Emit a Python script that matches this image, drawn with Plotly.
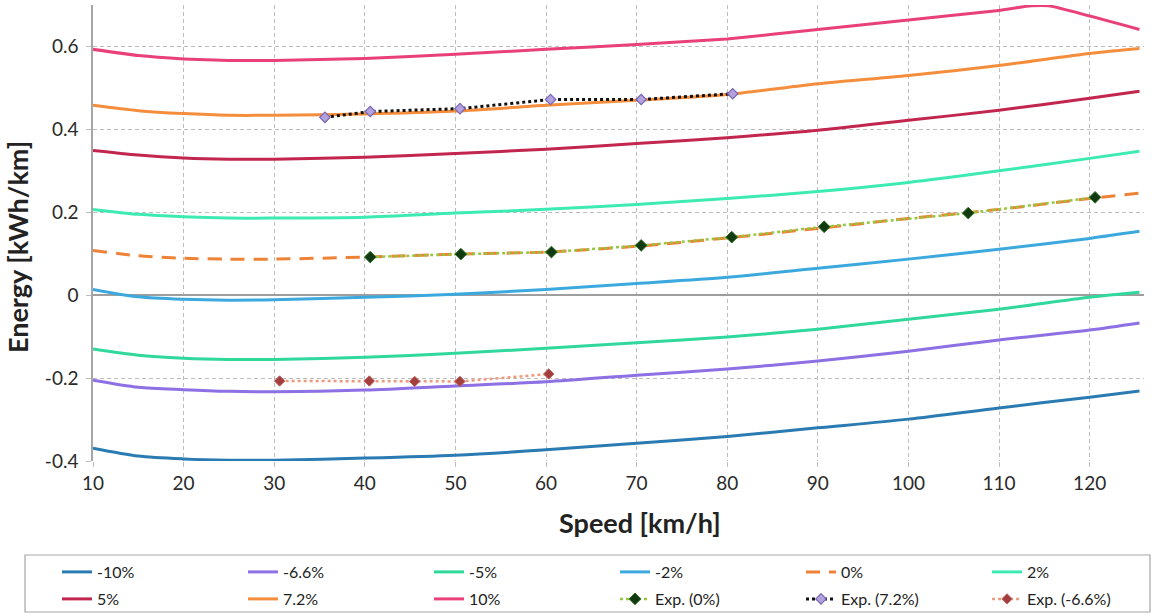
import plotly.graph_objects as go

# Speed grid for the model curves [km/h]
speed = [10, 15, 20, 25, 30, 40, 50, 60, 70, 80, 90, 100, 110, 120, 125.5]

# Modelled energy consumption [kWh/km] per road grade
e_m10 = [-0.369, -0.388, -0.395, -0.398, -0.398, -0.393, -0.386, -0.373, -0.357, -0.341, -0.320, -0.299, -0.272, -0.246, -0.231]
e_m66 = [-0.205, -0.222, -0.228, -0.232, -0.233, -0.229, -0.219, -0.209, -0.193, -0.178, -0.159, -0.135, -0.108, -0.084, -0.067]
e_m5 = [-0.130, -0.145, -0.152, -0.155, -0.155, -0.150, -0.140, -0.128, -0.115, -0.101, -0.082, -0.058, -0.034, -0.005, 0.007]
e_m2 = [0.014, -0.004, -0.010, -0.012, -0.011, -0.005, 0.002, 0.014, 0.028, 0.043, 0.065, 0.087, 0.111, 0.137, 0.154]
e_0 = [0.108, 0.095, 0.089, 0.087, 0.087, 0.092, 0.099, 0.104, 0.118, 0.138, 0.161, 0.185, 0.207, 0.233, 0.246]
e_p2 = [0.207, 0.195, 0.189, 0.186, 0.186, 0.188, 0.198, 0.207, 0.219, 0.233, 0.250, 0.272, 0.300, 0.330, 0.347]
e_p5 = [0.349, 0.338, 0.331, 0.328, 0.328, 0.333, 0.342, 0.352, 0.366, 0.380, 0.398, 0.422, 0.446, 0.475, 0.492]
e_p72 = [0.458, 0.445, 0.438, 0.434, 0.434, 0.437, 0.444, 0.458, 0.470, 0.484, 0.510, 0.530, 0.554, 0.583, 0.595]

speed_p10 = [10, 15, 20, 25, 30, 40, 50, 60, 70, 80, 90, 100, 110, 113.5, 115.5, 125.5]
e_p10 = [0.593, 0.578, 0.570, 0.566, 0.566, 0.571, 0.581, 0.593, 0.605, 0.618, 0.641, 0.664, 0.687, 0.698, 0.698, 0.641]

# Measured points
exp0_speed = [40.6, 50.6, 60.6, 70.5, 80.5, 90.7, 106.6, 120.6]
exp0_energy = [0.092, 0.099, 0.104, 0.120, 0.140, 0.165, 0.198, 0.236]
exp72_speed = [35.6, 40.6, 50.5, 60.5, 70.5, 80.6]
exp72_energy = [0.429, 0.443, 0.450, 0.472, 0.472, 0.486]
expm66_speed = [30.6, 40.5, 45.5, 50.5, 60.3]
expm66_energy = [-0.207, -0.207, -0.208, -0.208, -0.190]

y_ticks = [-0.4, -0.2, 0, 0.2, 0.4, 0.6]
y_tick_labels = ["-0.4", "-0.2", "0", "0.2", "0.4", "0.6"]
x_ticks = [10, 20, 30, 40, 50, 60, 70, 80, 90, 100, 110, 120]

FONT = "Lato, 'Open Sans', sans-serif"

fig = go.Figure()

# legend ids: first five columns of each row share one legend, the sixth column has its own
model = [
    ("-10%", speed, e_m10, "#2B7BB3", "solid", "legend", 0.8),
    ("-6.6%", speed, e_m66, "#8C70E4", "solid", "legend", 0.8),
    ("-5%", speed, e_m5, "#30D89C", "solid", "legend", 0.8),
    ("-2%", speed, e_m2, "#3CA9DE", "solid", "legend", 0.8),
    ("0%", speed, e_0, "#EE8236", "14px,9px", "legend", 0.8),
    ("2%", speed, e_p2, "#3DEBB2", "solid", "legend2", 0.8),
    ("5%", speed, e_p5, "#C2264F", "solid", "legend3", 0.8),
    ("7.2%", speed, e_p72, "#F58E3C", "solid", "legend3", 0.8),
    ("10%", speed_p10, e_p10, "#E9407A", "solid", "legend3", 0.4),
]
for name, xs, ys, col, dash, leg, smooth in model:
    fig.add_trace(go.Scatter(
        x=xs, y=ys, name=name, mode="lines", legend=leg,
        line=dict(color=col, width=3, dash=dash, shape="spline", smoothing=smooth),
    ))

fig.add_trace(go.Scatter(
    x=exp0_speed, y=exp0_energy, name="Exp. (0%)", mode="lines+markers", legend="legend3",
    line=dict(color="#93C83E", width=2.5, dash="dot"),
    marker=dict(symbol="diamond", size=9, color="#123A12", line=dict(color="#2E6B1E", width=1)),
))
fig.add_trace(go.Scatter(
    x=exp72_speed, y=exp72_energy, name="Exp. (7.2%)", mode="lines+markers", legend="legend3",
    line=dict(color="#111111", width=3, dash="dot"),
    marker=dict(symbol="diamond", size=8, color="#B3A2DE", line=dict(color="#7866B4", width=1.2)),
))
fig.add_trace(go.Scatter(
    x=expm66_speed, y=expm66_energy, name="Exp. (-6.6%)", mode="lines+markers", legend="legend4",
    line=dict(color="#EE9A7E", width=2.5, dash="dot"),
    marker=dict(symbol="diamond", size=8, color="#A33E3E", line=dict(color="#C06060", width=1)),
))

L, R, T, B = 93, 12, 5, 155
W, H = 1156, 616
pw, ph = W - L - R, H - T - B


def px_x(p):
    return (p - L) / pw


def px_y(p):
    return (H - B - p) / ph


COL_STEP = 186
ENTRY_W = COL_STEP - 45
LEG_LEFT = 57
ROW1_TOP, ROW2_TOP = 555, 582

legend_common = dict(
    orientation="h", xanchor="left", yanchor="top",
    bgcolor="rgba(0,0,0,0)", borderwidth=0,
    font=dict(family=FONT, size=16, color="#222222"),
)
title_font = dict(family=FONT, size=27, color="#222222")

fig.update_layout(
    width=W, height=H,
    margin=dict(l=L, r=R, t=T, b=B, autoexpand=False),
    plot_bgcolor="white", paper_bgcolor="white",
    font=dict(family=FONT, color="#333333"),
    showlegend=True,
    legend=dict(x=px_x(LEG_LEFT), y=px_y(ROW1_TOP), entrywidth=ENTRY_W, **legend_common),
    legend2=dict(x=px_x(LEG_LEFT + 5 * COL_STEP), y=px_y(ROW1_TOP), **legend_common),
    legend3=dict(x=px_x(LEG_LEFT), y=px_y(ROW2_TOP), entrywidth=ENTRY_W, **legend_common),
    legend4=dict(x=px_x(LEG_LEFT + 5 * COL_STEP), y=px_y(ROW2_TOP), **legend_common),
    xaxis=dict(
        range=[10, 126], tickvals=x_ticks,
        showgrid=True, gridcolor="#BDBDBD", griddash="4px,3px", gridwidth=1,
        ticks="outside", ticklen=5, tickcolor="#BDBDBD",
        tickfont=dict(family=FONT, size=19, color="#2A2A2A"),
        showline=False, zeroline=False,
    ),
    yaxis=dict(
        range=[-0.4, 0.7], tickvals=y_ticks, ticktext=y_tick_labels,
        showgrid=True, gridcolor="#BDBDBD", griddash="4px,3px", gridwidth=1,
        ticks="outside", ticklen=5, tickcolor="#BDBDBD", ticklabelstandoff=4,
        tickfont=dict(family=FONT, size=19, color="#2A2A2A"),
        showline=True, linecolor="#A6A6A6", linewidth=1.5,
        zeroline=True, zerolinecolor="#9E9E9E", zerolinewidth=1.5,
    ),
    annotations=[
        dict(text="<b>Speed [km/h]</b>", xref="paper", yref="paper",
             x=px_x(640), y=px_y(522), xanchor="center", yanchor="middle",
             showarrow=False, font=title_font),
        dict(text="<b>Energy [kWh/km]</b>", xref="paper", yref="paper",
             x=px_x(17), y=px_y(247), xanchor="center", yanchor="middle",
             textangle=-90, showarrow=False, font=title_font),
    ],
    shapes=[dict(
        type="rect", xref="paper", yref="paper",
        x0=px_x(25), x1=px_x(1150), y0=px_y(612), y1=px_y(555),
        line=dict(color="#A6A6A6", width=1.2), fillcolor="rgba(0,0,0,0)", layer="below",
    )],
)

fig.write_html("out.html")
